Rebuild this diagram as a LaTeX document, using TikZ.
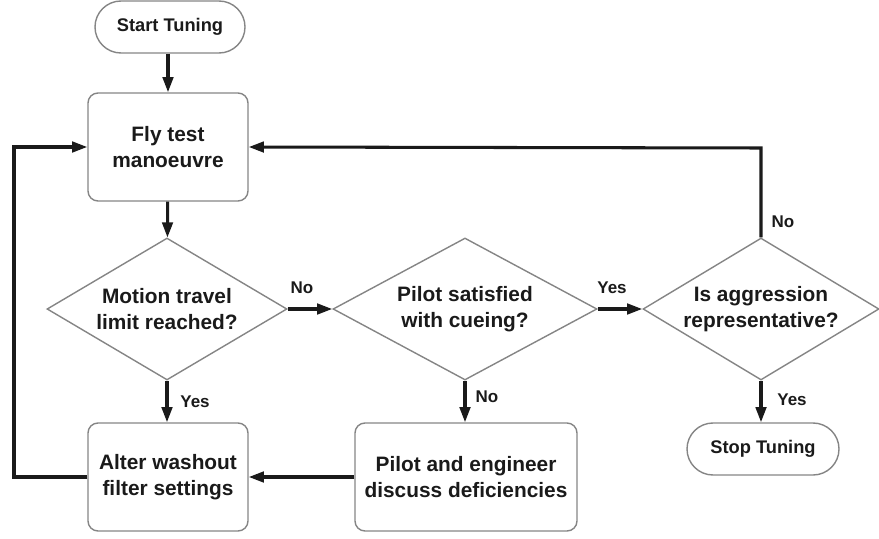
\documentclass[tikz,border=0pt]{standalone}
\usepackage{fontspec}
\setmainfont{Liberation Sans}
\usetikzlibrary{shapes.geometric,arrows.meta}
\definecolor{shapegray}{HTML}{858585}
\definecolor{inkblack}{HTML}{1A1A1A}
\newcommand\flowfont{\fontsize{17.8}{22.5}\selectfont\bfseries}
\newcommand\termfont{\fontsize{15.6}{19}\selectfont\bfseries}
\newcommand\tagfont{\fontsize{14.5}{17}\selectfont\bfseries}
\begin{document}
\begin{tikzpicture}[x=0.03cm,y=-0.03cm,
  every node/.style={text=inkblack},
  procbox/.style={draw=shapegray, line width=1.2pt, rounded corners=0.3cm,
    align=center, inner sep=0pt, font=\flowfont,
    minimum width=4.8cm, minimum height=3.24cm},
  terminal/.style={draw=shapegray, line width=1.2pt, rounded corners=0.78cm,
    align=center, inner sep=0pt, font=\termfont,
    minimum width=4.5cm, minimum height=1.56cm},
  decision/.style={draw=shapegray, line width=1.2pt, shape=diamond,
    align=center, inner sep=0pt, font=\flowfont,
    minimum height=4.26cm},
  flow/.style={draw=inkblack, line width=2.6pt,
    -{Triangle[length=13pt,width=9pt]}},
  tag/.style={font=\tagfont, inner sep=0pt}]
\useasboundingbox (0,0) rectangle (879,539);

% process steps and terminals
\node[terminal] (start) at (170,27) {Start Tuning};
\node[procbox] (fly) at (168,147) {Fly test\\manoeuvre};
\node[decision, minimum width=7.2cm, aspect=1.69] (motion) at (167,309)
  {Motion travel\\limit reached?};
\node[decision, minimum width=7.92cm, aspect=1.86] (pilot) at (465,309)
  {Pilot satisfied\\with cueing?};
\node[decision, minimum width=7.08cm, aspect=1.66] (aggr) at (761,309)
  {Is aggression\\representative?};
\node[procbox] (alter) at (168,477) {Alter washout\\filter settings};
\node[procbox, minimum width=6.66cm] (discuss) at (466,477)
  {Pilot and engineer\\discuss deficiencies};
\node[terminal, minimum width=4.56cm] (stop) at (763,449) {Stop Tuning};

% loop corners
\coordinate (loopL) at (14,0);
\coordinate (loopR) at (762,148);

% connectors
\draw[flow] (start.south -| fly.north) -- (fly.north);
\draw[flow] (fly) -- (motion);
\draw[flow] (motion.east) -- (pilot.west);
\draw[flow] (pilot.east) -- (aggr.west);
\draw[flow] (motion.south) -- (alter.north -| motion.south);
\draw[flow] (pilot.south) -- (discuss.north -| pilot.south);
\draw[flow] (aggr.south) -- (stop.north -| aggr.south);
\draw[flow] (aggr.north) -- (aggr.north |- loopR) -- (fly.east);
\draw[flow] (discuss.west) -- (alter.east);
\draw[flow] (alter.west) -- (loopL |- alter.west) -- (loopL |- fly.west) -- (fly.west);

% branch labels
\node[tag] at (302,288) {No};
\node[tag] at (612,288) {Yes};
\node[tag] at (195,402) {Yes};
\node[tag] at (487,397) {No};
\node[tag] at (792,400) {Yes};
\node[tag] at (783,222) {No};
\end{tikzpicture}
\end{document}
